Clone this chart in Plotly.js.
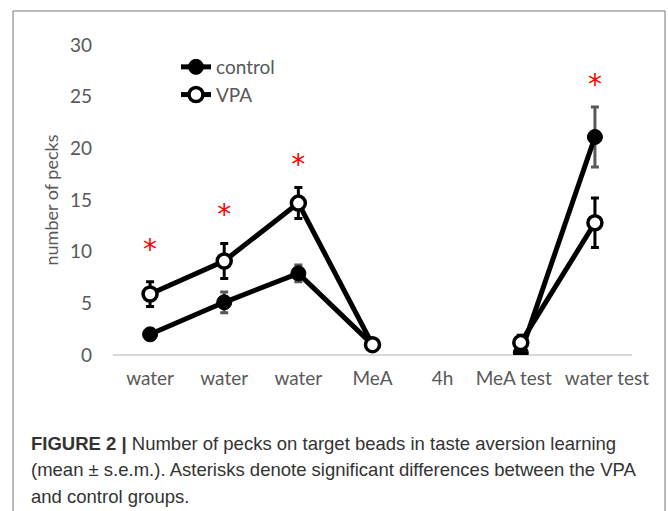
<!DOCTYPE html>
<html><head><meta charset="utf-8">
<script src="https://cdn.plot.ly/plotly-3.0.1.min.js"></script>
<style>body{margin:0;background:#fff}#chart{width:668px;height:511px}</style>
</head><body><div id="chart"></div>
<script>
const categories = ["water","water","water","MeA","4h","MeA test","water test"];
const controlMean = [2.0, 5.1, 7.9, 1.0, null, 0.2, 21.1];
const controlSem  = [0.3, 1.0, 0.8, 0.2, null, 0.2, 2.9];
const vpaMean     = [5.9, 9.1, 14.7, 1.0, null, 1.2, 12.8];
const vpaSem      = [1.2, 1.7, 1.5, 0.2, null, 0.7, 2.4];
const sigIndex    = [0, 1, 2, 6];
const sigY        = [10.0, 13.4, 18.2, 25.9];
const captionLines = [
  "<b>FIGURE 2</b> <b>|</b> Number of pecks on target beads in taste aversion learning",
  "(mean ± s.e.m.). Asterisks denote significant differences between the VPA",
  "and control groups."
];

const xIdx = categories.map((c,i)=>i);
const W=668,H=511,L=113,R=36,T=45,B=156;
const pw=W-L-R, ph=H-T-B;
const px = p => (p-L)/pw;
const py = p => (H-B-p)/ph;
// label nudges (px) to keep crowded tick labels apart, as in the original
const labelNudgePx = [0,0,0,0,-4,-7,12];
const tickPos = xIdx.map((v,i)=> v + labelNudgePx[i]*7/pw);

const traces = [
  {x:xIdx, y:controlMean, name:"control", mode:"lines+markers", connectgaps:false,
   line:{color:"#000",width:5}, marker:{color:"#000",size:15,line:{color:"#000",width:1}},
   error_y:{type:"data",array:controlSem,visible:true,color:"#595959",thickness:3,width:4}},
  {x:xIdx, y:vpaMean, name:"VPA", mode:"lines+markers", connectgaps:false,
   line:{color:"#000",width:5}, marker:{color:"#fff",size:14,line:{color:"#000",width:3.5}},
   error_y:{type:"data",array:vpaSem,visible:true,color:"#000",thickness:3,width:4}},
  {x:sigIndex, y:sigY, mode:"text", text:sigIndex.map(()=>"*"), showlegend:false,
   textfont:{color:"#ff0000",size:28,family:"DejaVu Sans"}, hoverinfo:"skip"}
];

const annotations = captionLines.map((t,i)=>({
  xref:"paper", yref:"paper", x:px(29), y:py(443+i*26.5), xanchor:"left", yanchor:"middle",
  showarrow:false, text:t, align:"left",
  font:{family:"Liberation Sans Narrow, Liberation Sans", size:18.5, color:"#333"}
}));

const layout = {
  width:W, height:H, margin:{l:L,r:R,t:T,b:B},
  paper_bgcolor:"#fff", plot_bgcolor:"#fff",
  font:{family:"Lato, Open Sans, sans-serif", size:19, color:"#595959"},
  showlegend:true,
  legend:{x:px(176), y:py(48), xanchor:"left", yanchor:"top", bgcolor:"rgba(0,0,0,0)",
          font:{size:19,color:"#595959"}, tracegroupgap:0},
  xaxis:{range:[-0.5,6.5], tickmode:"array", tickvals:tickPos, ticktext:categories,
         tickangle:0, automargin:false,
         showgrid:false, zeroline:false, showline:false, ticks:"", ticklabelstandoff:10,
         tickfont:{size:19,color:"#595959"}, fixedrange:true},
  yaxis:{range:[0,30], dtick:5, showgrid:false, zeroline:true, zerolinecolor:"#d9d9d9",
         zerolinewidth:2, showline:false, ticks:"", ticklabelstandoff:20, automargin:false,
         tickfont:{size:19,color:"#595959"},
         title:{text:"number of pecks", font:{size:18,color:"#595959"}, standoff:6}},
  shapes:[
    {type:"path", xref:"paper", yref:"paper",
     path:`M ${px(13)} ${py(511)} L ${px(13)} ${py(11)} L ${px(665)} ${py(11)} L ${px(665)} ${py(511)}`,
     line:{color:"#777",width:1}}
  ],
  annotations
};
Plotly.newPlot("chart", traces, layout, {displayModeBar:false, staticPlot:true});
</script></body></html>
